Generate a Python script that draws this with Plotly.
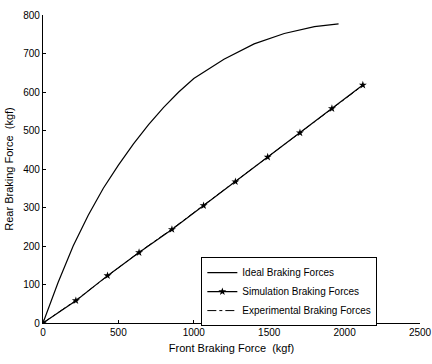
import plotly.graph_objects as go

# Ideal braking force curve
ideal_front = [0, 100, 200, 300, 400, 500, 600, 700, 800, 900, 1000, 1200, 1400, 1600, 1800, 1960]
ideal_rear = [0, 105, 200, 280, 350, 410, 465, 515, 560, 600, 635, 685, 725, 752, 770, 777]

# Simulation braking forces (markers)
sim_front = [0, 218, 428, 637, 855, 1065, 1276, 1490, 1704, 1916, 2121]
sim_rear = [0, 58, 123, 183, 243, 305, 367, 431, 494, 557, 618]

# Experimental braking forces
exp_front = [0, 218, 428, 637, 855, 1065, 1276, 1490, 1704, 1916, 2121]
exp_rear = [0, 59, 122, 184, 244, 306, 368, 430, 493, 556, 617]

x_ticks = [0, 500, 1000, 1500, 2000, 2500]
y_ticks = [0, 100, 200, 300, 400, 500, 600, 700, 800]

fig = go.Figure()
fig.add_trace(go.Scatter(x=ideal_front, y=ideal_rear, mode="lines",
                         name="Ideal Braking Forces",
                         line=dict(color="black", width=1.2)))
fig.add_trace(go.Scatter(x=sim_front, y=sim_rear, mode="lines+markers",
                         name="Simulation Braking Forces",
                         line=dict(color="black", width=1.2),
                         marker=dict(symbol="star", size=6, color="black")))
fig.add_trace(go.Scatter(x=exp_front, y=exp_rear, mode="lines",
                         name="Experimental Braking Forces",
                         line=dict(color="black", width=1, dash="dashdot")))

axis_common = dict(showgrid=False, zeroline=False, showline=True, linecolor="black",
                   linewidth=1.2, ticks="inside", ticklen=3, tickcolor="black",
                   tickfont=dict(family="Liberation Sans, Arial", size=10, color="black"),
                   mirror=False, automargin=False, ticklabeloverflow="allow")

fig.update_layout(
    width=432, height=364,
    margin=dict(l=43, r=12, t=15, b=41),
    paper_bgcolor="white", plot_bgcolor="white",
    font=dict(family="Liberation Sans, Arial", size=10, color="black"),
    xaxis=dict(range=[0, 2500], tickvals=x_ticks,
               title=dict(text="Front Braking Force  (kgf)", standoff=7,
                          font=dict(size=11)), **axis_common),
    yaxis=dict(range=[0, 800], tickvals=y_ticks,
               title=dict(text="Rear Braking Force  (kgf)", standoff=7,
                          font=dict(size=11)), **axis_common),
    legend=dict(x=0.42, y=0.214, xanchor="left", yanchor="top",
                bordercolor="black", borderwidth=1, bgcolor="white",
                font=dict(size=10), itemwidth=30, tracegroupgap=0),
    showlegend=True,
)

fig.write_html("out.html", config={"displayModeBar": False},
               post_script="document.body.style.margin='0';")
